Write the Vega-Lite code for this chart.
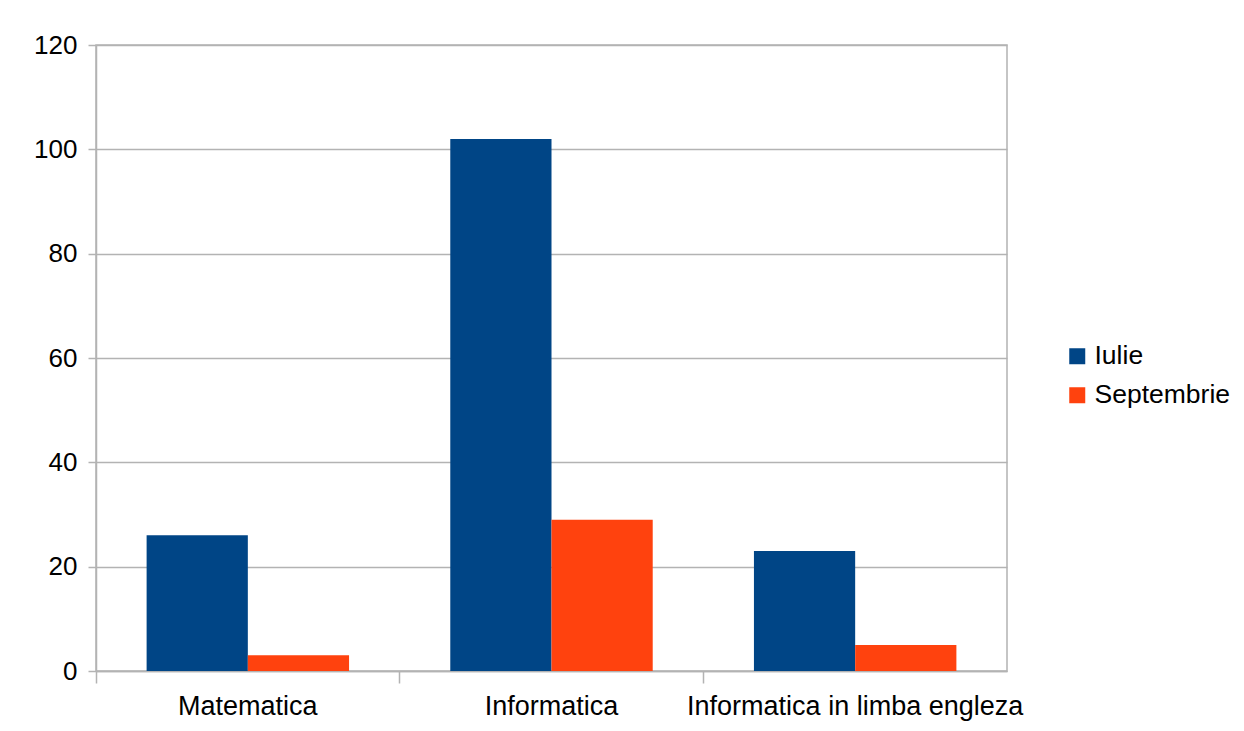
{
  "$schema": "https://vega.github.io/schema/vega-lite/v6.json",
  "autosize": "none",
  "width": 911,
  "height": 626,
  "padding": {"left": 96, "top": 45, "right": 237, "bottom": 60},
  "background": "white",
  "config": {
    "font": "Liberation Sans",
    "view": {"stroke": "#b3b3b3", "strokeWidth": 1.5}
  },
  "data": {
    "values": [
      {"materie": "Matematica", "sesiune": "Iulie", "valoare": 26},
      {"materie": "Matematica", "sesiune": "Septembrie", "valoare": 3},
      {"materie": "Informatica", "sesiune": "Iulie", "valoare": 102},
      {"materie": "Informatica", "sesiune": "Septembrie", "valoare": 29},
      {"materie": "Informatica in limba engleza", "sesiune": "Iulie", "valoare": 23},
      {"materie": "Informatica in limba engleza", "sesiune": "Septembrie", "valoare": 5}
    ]
  },
  "mark": {"type": "bar"},
  "encoding": {
    "x": {
      "field": "materie",
      "type": "nominal",
      "sort": ["Matematica", "Informatica", "Informatica in limba engleza"],
      "scale": {"paddingInner": 0, "paddingOuter": 0},
      "axis": {
        "title": null,
        "labelAngle": 0,
        "labelFontSize": 27,
        "labelColor": "#000000",
        "labelPadding": 10,
        "labelLimit": 0,
        "bandPosition": 0,
        "tickSize": 12,
        "tickColor": "#b3b3b3",
        "tickWidth": 1.5,
        "domainColor": "#b3b3b3",
        "domainWidth": 1.5,
        "grid": false,
        "labelOverlap": false,
        "labelFont": "Liberation Sans"
      }
    },
    "xOffset": {
      "field": "sesiune",
      "type": "nominal",
      "scale": {"paddingInner": 0, "paddingOuter": 0.5}
    },
    "y": {
      "field": "valoare",
      "type": "quantitative",
      "scale": {"domain": [0, 120], "nice": false},
      "axis": {
        "title": null,
        "values": [0, 20, 40, 60, 80, 100, 120],
        "labelFontSize": 26,
        "labelColor": "#000000",
        "labelPadding": 11,
        "tickSize": 8,
        "tickColor": "#b3b3b3",
        "tickWidth": 1.5,
        "domainColor": "#b3b3b3",
        "domainWidth": 1.5,
        "gridColor": "#b3b3b3",
        "gridWidth": 1.5,
        "labelFont": "Liberation Sans"
      }
    },
    "color": {
      "field": "sesiune",
      "type": "nominal",
      "scale": {"domain": ["Iulie", "Septembrie"], "range": ["#004586", "#ff420e"]},
      "legend": {
        "title": null,
        "orient": "none",
        "legendX": 968,
        "legendY": 298,
        "symbolType": "square",
        "symbolSize": 256,
        "symbolStrokeWidth": 0,
        "labelFontSize": 26.5,
        "labelColor": "#000000",
        "labelFont": "Liberation Sans",
        "rowPadding": 12,
        "labelOffset": 4
      }
    }
  }
}
